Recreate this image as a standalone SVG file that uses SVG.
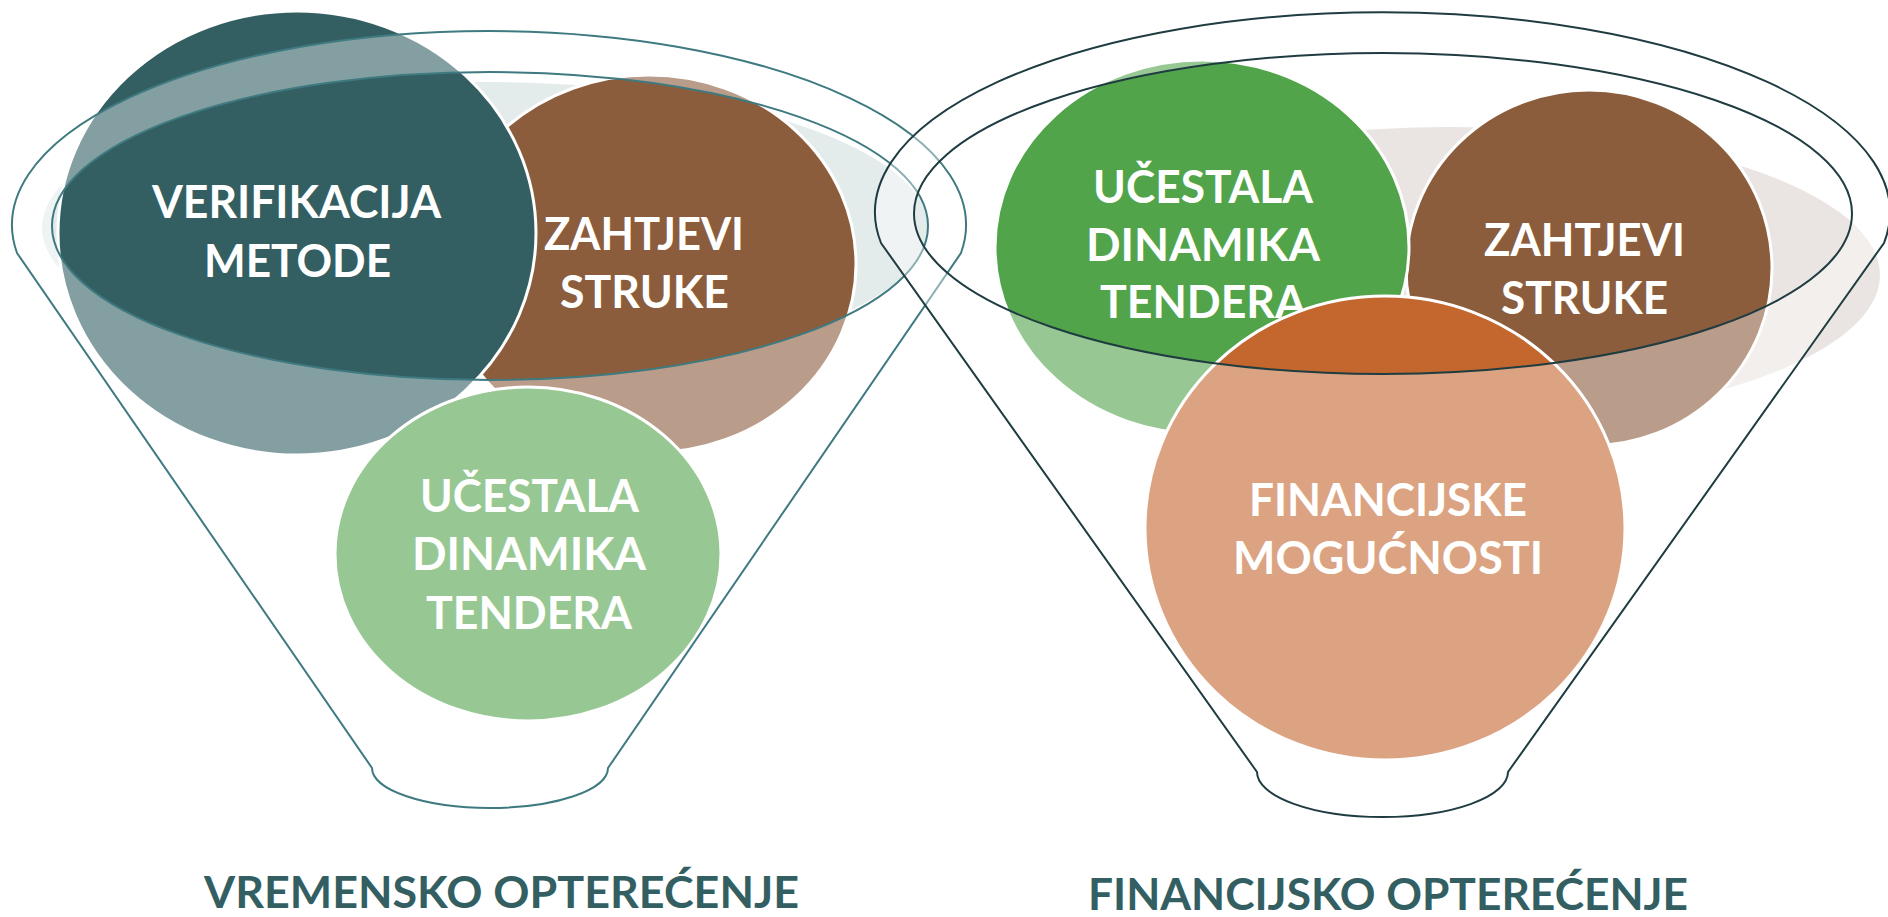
<svg xmlns="http://www.w3.org/2000/svg" width="1888" height="917" viewBox="0 0 1888 917">
<style>
.c{stroke:#fff;stroke-width:3}
.t{font-family:Lato,"Open Sans","Liberation Sans",sans-serif;font-weight:700;font-size:45px;fill:#fff;text-anchor:middle}
.lbl{font-family:Lato,"Open Sans","Liberation Sans",sans-serif;font-weight:700;font-size:43px;fill:#335F63;text-anchor:middle}
.ov{fill:#fff;fill-opacity:0.4;fill-rule:evenodd;stroke:none}
.lf{fill:none;stroke:#3E7A80;stroke-width:2}
.rf{fill:none;stroke:#1F3C41;stroke-width:2}
</style>
<rect width="1888" height="917" fill="#fff"/>
<g id="funnel-left">
  <ellipse id="left-back" cx="485" cy="228" rx="443" ry="146" fill="#E4EBEB"/>
  <g id="left-zahtjevi">
    <ellipse class="c" cx="649" cy="264" rx="207" ry="189" fill="#8B5D3C"/>
    <text class="t" x="644" y="250" textLength="200" lengthAdjust="spacingAndGlyphs">ZAHTJEVI</text>
    <text class="t" x="644.5" y="308" textLength="169" lengthAdjust="spacingAndGlyphs">STRUKE</text>
  </g>
  <g id="left-verifikacija">
    <ellipse class="c" cx="297" cy="233" rx="239" ry="222" fill="#335F63"/>
    <text class="t" x="296.5" y="218" textLength="289" lengthAdjust="spacingAndGlyphs">VERIFIKACIJA</text>
    <text class="t" x="297.5" y="277" textLength="187" lengthAdjust="spacingAndGlyphs">METODE</text>
  </g>
  <g id="left-ucestala">
    <ellipse class="c" cx="528" cy="554" rx="193" ry="167" fill="#52A44B"/>
    <text class="t" x="529.5" y="512" textLength="219" lengthAdjust="spacingAndGlyphs">UČESTALA</text>
    <text class="t" x="529" y="570" textLength="234" lengthAdjust="spacingAndGlyphs">DINAMIKA</text>
    <text class="t" x="529" y="629" textLength="206" lengthAdjust="spacingAndGlyphs">TENDERA</text>
  </g>
  <path class="ov" d="M 17 253 A 477 194 0 1 1 961 253 L 608 768 A 118 40 0 0 1 372 768 Z M 52 226 A 438 154 0 1 0 928 226 A 438 154 0 1 0 52 226 Z"/>
  <g id="left-outline">
    <path class="lf" d="M 17 253 A 477 194 0 1 1 961 253 L 608 768 A 118 40 0 0 1 372 768 Z"/>
    <ellipse class="lf" cx="490" cy="226" rx="438" ry="154"/>
  </g>
  <text class="lbl" x="501.5" y="908" textLength="595" lengthAdjust="spacingAndGlyphs">VREMENSKO OPTEREĆENJE</text>
</g>
<g id="funnel-right">
  <ellipse id="right-back" cx="1450" cy="275" rx="430" ry="148" fill="#EAE5E2"/>
  <g id="right-zahtjevi">
    <ellipse class="c" cx="1589" cy="268" rx="183" ry="178" fill="#8B5D3C"/>
    <text class="t" x="1584.5" y="256" textLength="201" lengthAdjust="spacingAndGlyphs">ZAHTJEVI</text>
    <text class="t" x="1584.5" y="314" textLength="167" lengthAdjust="spacingAndGlyphs">STRUKE</text>
  </g>
  <g id="right-ucestala">
    <ellipse class="c" cx="1202" cy="247" rx="207" ry="187" fill="#52A44B"/>
    <text class="t" x="1203" y="203" textLength="220" lengthAdjust="spacingAndGlyphs">UČESTALA</text>
    <text class="t" x="1203" y="261" textLength="234" lengthAdjust="spacingAndGlyphs">DINAMIKA</text>
    <text class="t" x="1203" y="318" textLength="206" lengthAdjust="spacingAndGlyphs">TENDERA</text>
  </g>
  <g id="right-financijske">
    <ellipse class="c" cx="1385" cy="528" rx="240" ry="232" fill="#C4672F"/>
    <text class="t" x="1388" y="516" textLength="278" lengthAdjust="spacingAndGlyphs">FINANCIJSKE</text>
    <text class="t" x="1388" y="574" textLength="310" lengthAdjust="spacingAndGlyphs">MOGUĆNOSTI</text>
  </g>
  <path class="ov" d="M 881 243 A 507.5 200 0 1 1 1884 243 L 1508 772 A 125.5 45 0 0 1 1257 772 Z M 914 213.5 A 469 160.5 0 1 0 1852 213.5 A 469 160.5 0 1 0 914 213.5 Z"/>
  <g id="right-outline">
    <path class="rf" d="M 881 243 A 507.5 200 0 1 1 1884 243 L 1508 772 A 125.5 45 0 0 1 1257 772 Z"/>
    <ellipse class="rf" cx="1383" cy="213.5" rx="469" ry="160.5"/>
  </g>
  <text class="lbl" x="1388" y="910" textLength="600" lengthAdjust="spacingAndGlyphs">FINANCIJSKO OPTEREĆENJE</text>
</g>
</svg>
